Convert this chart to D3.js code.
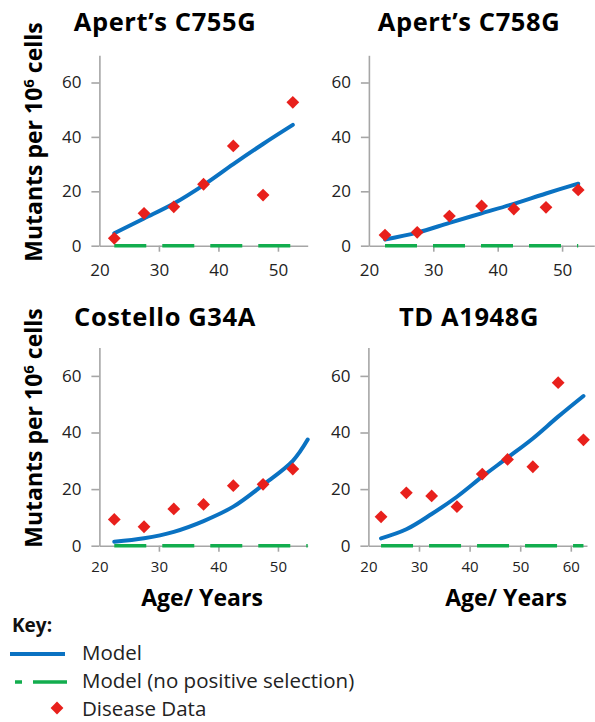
<!DOCTYPE html>
<html><head><meta charset="utf-8">
<script src="https://cdn.jsdelivr.net/npm/d3@7"></script>
<style>body{margin:0;background:#fff} svg{display:block}</style>
</head><body><svg id="c" width="595" height="722"></svg>
<script>
// ---- data ----
const titles = ["Apert\u2019s C755G", "Apert\u2019s C758G", "Costello G34A", "TD A1948G"];
const ages = [22.5, 27.5, 32.5, 37.5, 42.5, 47.5, 52.5];
const agesCostelloModel = [22.5, 27.5, 32.5, 37.5, 42.5, 47.5, 52.5, 55];
const agesTD = [22.5, 27.5, 32.5, 37.5, 42.5, 47.5, 52.5, 57.5, 62.5];
const c755Data = [2.7, 11.9, 14.3, 22.6, 36.7, 18.6, 52.7];
const c755Model = [4.6, 10.0, 15.5, 22.3, 30.0, 37.4, 44.4];
const c755NoSel = [0, 0, 0, 0, 0, 0, 0];
const c758Data = [3.9, 4.9, 10.9, 14.6, 13.5, 14.1, 20.5];
const c758Model = [2.3, 4.8, 8.4, 11.9, 15.4, 19.2, 22.8];
const c758NoSel = [0, 0, 0, 0, 0, 0, 0];
const costelloData = [9.3, 6.7, 13.0, 14.6, 21.2, 21.7, 27.1];
const costelloModel = [1.4, 2.6, 4.9, 8.7, 13.8, 21.5, 30.0, 37.5];
const costelloNoSel = [0, 0, 0, 0, 0, 0, 0, 0];
const tdData = [10.2, 18.7, 17.6, 13.8, 25.3, 30.5, 27.9, 57.6, 37.4];
const tdModel = [2.6, 5.8, 11.2, 17.3, 24.4, 31.1, 37.9, 45.6, 52.9];
const tdNoSel = [0, 0, 0, 0, 0, 0, 0, 0, 0];
const xTicksShort = [20, 30, 40, 50];
const xTicksLong = [20, 30, 40, 50, 60];
const yTicks = [0, 20, 40, 60];
const legendLabels = ["Model", "Model (no positive selection)", "Disease Data"];

// ---- layout ----
const panels = [
  {title: titles[0], dataX: ages, data: c755Data, modelX: ages, model: c755Model, noSel: c755NoSel,
   xd: [20, 55], xr: [99.4, 307.7], yr: [245.7, 55.3], xt: xTicksShort, tx: 165, ty: 31, bottom: false, fs: 17},
  {title: titles[1], dataX: ages, data: c758Data, modelX: ages, model: c758Model, noSel: c758NoSel,
   xd: [20, 55], xr: [368.9, 594.3], yr: [245.7, 55.3], xt: xTicksShort, tx: 469, ty: 31, bottom: false, fs: 17},
  {title: titles[2], dataX: ages, data: costelloData, modelX: agesCostelloModel, model: costelloModel, noSel: costelloNoSel,
   xd: [20, 55], xr: [99.4, 307.7], yr: [545.7, 347.6], xt: xTicksShort, tx: 165, ty: 326, bottom: true, fs: 15},
  {title: titles[3], dataX: agesTD, data: tdData, modelX: agesTD, model: tdModel, noSel: tdNoSel,
   xd: [20, 63.2], xr: [368.4, 587], yr: [545.7, 347.6], xt: xTicksLong, tx: 469, ty: 326, bottom: true, fs: 15}
];

const svg = d3.select("#c");
const FONT = "'Open Sans', Lato, sans-serif";
const BLUE = "#0a72c2", GREEN = "#12ad4e", RED = "#e8201c", AXIS = "#a6a6a6";
const diamond = d3.symbol().type(d3.symbolSquare).size(82);

panels.forEach(p => {
  const x = d3.scaleLinear().domain(p.xd).range(p.xr);
  const y = d3.scaleLinear().domain([0, 70]).range(p.yr);
  const g = svg.append("g");

  g.append("text").attr("x", p.tx).attr("y", p.ty).attr("text-anchor", "middle")
    .attr("font-family", FONT).attr("font-weight", 700).attr("font-size", 25.5).attr("letter-spacing", 0.6)
    .attr("fill", "#000").text(p.title);

  const ya = g.append("g").attr("transform", `translate(${p.xr[0]},0)`)
    .call(d3.axisLeft(y).tickValues(yTicks).tickSize(8).tickSizeOuter(0).tickPadding(10));
  const xa = g.append("g").attr("transform", `translate(0,${p.yr[0]})`)
    .call(d3.axisBottom(x).tickValues(p.xt).tickSize(6).tickSizeOuter(0).tickPadding(p.bottom ? 10 : 12));
  [ya, xa].forEach(a => {
    a.selectAll("path,line").attr("stroke", AXIS).attr("stroke-width", 1.6);
    a.selectAll("text").attr("font-family", FONT).attr("fill", "#222");
  });
  ya.selectAll("text").attr("font-size", 17);
  xa.selectAll("text").attr("font-size", p.fs);
  xa.selectAll(".tick").filter(d => d === 20).select("line").remove();

  const line = d3.line().x(d => x(d[0])).y(d => y(d[1])).curve(d3.curveCatmullRom.alpha(0.5));
  g.append("path").datum(p.modelX.map((a, i) => [a, p.noSel[i]]))
    .attr("d", d3.line().x(d => x(d[0])).y(d => y(d[1])))
    .attr("fill", "none").attr("stroke", GREEN).attr("stroke-width", 3.5).attr("stroke-dasharray", "32,16");
  g.append("path").datum(p.modelX.map((a, i) => [a, p.model[i]]))
    .attr("d", line).attr("fill", "none").attr("stroke", BLUE).attr("stroke-width", 4).attr("stroke-linecap", "round");
  g.selectAll(".pt").data(p.dataX.map((a, i) => [a, p.data[i]])).enter().append("path")
    .attr("d", diamond).attr("fill", RED)
    .attr("transform", d => `translate(${x(d[0])},${y(d[1])}) rotate(45)`);

  if (p.bottom) {
    g.append("text").attr("x", p.tx + 37).attr("y", 606).attr("text-anchor", "middle")
      .attr("font-family", FONT).attr("font-weight", 700).attr("font-size", 23).attr("fill", "#000").text("Age/ Years");
  }
});

// y-axis labels
[142, 428].forEach(cy => {
  const t = svg.append("text").attr("transform", `translate(42,${cy}) rotate(-90)`).attr("text-anchor", "middle")
    .attr("font-family", FONT).attr("font-weight", 700).attr("font-size", 23).attr("fill", "#000");
  t.append("tspan").text("Mutants per 10");
  t.append("tspan").attr("font-size", 15).attr("dy", -8).text("6");
  t.append("tspan").attr("dy", 8).text(" cells");
});

// legend
svg.append("text").attr("x", 12).attr("y", 632).attr("font-family", FONT).attr("font-weight", 700)
  .attr("font-size", 19).attr("fill", "#111").text("Key:");
const lg = svg.append("g");
lg.append("line").attr("x1", 10).attr("x2", 65).attr("y1", 654).attr("y2", 654).attr("stroke", BLUE).attr("stroke-width", 4);
lg.append("line").attr("x1", 15).attr("x2", 67).attr("y1", 682).attr("y2", 682).attr("stroke", GREEN)
  .attr("stroke-width", 3.5).attr("stroke-dasharray", "7,11,34");
lg.append("path").attr("d", diamond).attr("fill", RED).attr("transform", "translate(57,708) rotate(45)");
legendLabels.forEach((s, i) => {
  lg.append("text").attr("x", 82).attr("y", 660 + i * 28).attr("font-family", FONT).attr("font-size", 20.5)
    .attr("fill", "#222").text(s);
});
</script></body></html>
